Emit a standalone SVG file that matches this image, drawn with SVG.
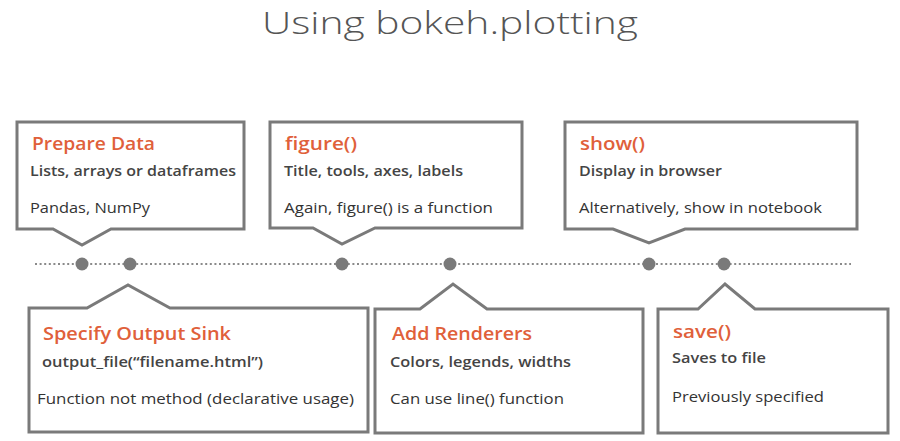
<svg xmlns="http://www.w3.org/2000/svg" width="900" height="441" viewBox="0 0 900 441">
<style>
.box{fill:#fff;stroke:#7a7a7a;stroke-width:3;stroke-linejoin:miter}
text{font-family:"Open Sans","Liberation Sans",sans-serif}
.h{font-weight:600;font-size:18px;fill:#e0603a}
.s{font-weight:600;font-size:15px;fill:#444}
.n{font-weight:400;font-size:15px;fill:#333}
.title{font-weight:300;font-size:32px;fill:#555}
.dot{fill:#7a7a7a}
</style>
<rect width="900" height="441" fill="#fff"/>
<text class="title" x="262" y="34" textLength="376" lengthAdjust="spacingAndGlyphs">Using bokeh.plotting</text>
<g id="connectors">
<line x1="35" y1="264" x2="851" y2="264" stroke="#8a8a8a" stroke-width="2.2" stroke-dasharray="2 2.6"/>
</g>
<g id="dots">
<circle class="dot" cx="82" cy="264" r="6.5"/>
<circle class="dot" cx="130" cy="264" r="6.5"/>
<circle class="dot" cx="342" cy="264" r="6.5"/>
<circle class="dot" cx="450" cy="264" r="6.5"/>
<circle class="dot" cx="649" cy="264" r="6.5"/>
<circle class="dot" cx="724" cy="264" r="6.5"/>
</g>
<g id="prepare-data">
<path class="box" d="M17,122 H244 V229 H111 L82,245 L53,229 H17 Z"/>
<text class="h" x="32" y="150" textLength="123" lengthAdjust="spacingAndGlyphs">Prepare Data</text>
<text class="s" x="30" y="176" textLength="206" lengthAdjust="spacingAndGlyphs">Lists, arrays or dataframes</text>
<text class="n" x="30" y="213" textLength="120" lengthAdjust="spacingAndGlyphs">Pandas, NumPy</text>
</g>
<g id="figure">
<path class="box" d="M270,122 H522 V228 H375 L342,244 L313,228 H270 Z"/>
<text class="h" x="285" y="150" textLength="72" lengthAdjust="spacingAndGlyphs">figure()</text>
<text class="s" x="284" y="176" textLength="179" lengthAdjust="spacingAndGlyphs">Title, tools, axes, labels</text>
<text class="n" x="284" y="213" textLength="209" lengthAdjust="spacingAndGlyphs">Again, figure() is a function</text>
</g>
<g id="show">
<path class="box" d="M565,122 H857 V229 H685 L649,243 L613,229 H565 Z"/>
<text class="h" x="580" y="150" textLength="65" lengthAdjust="spacingAndGlyphs">show()</text>
<text class="s" x="579" y="176" textLength="143" lengthAdjust="spacingAndGlyphs">Display in browser</text>
<text class="n" x="579" y="213" textLength="243" lengthAdjust="spacingAndGlyphs">Alternatively, show in notebook</text>
</g>
<g id="specify-output-sink">
<path class="box" d="M29,308 H87 L128,285 L170,308 H368 V432 H29 Z"/>
<text class="h" x="43" y="340" textLength="188" lengthAdjust="spacingAndGlyphs">Specify Output Sink</text>
<text class="s" x="42" y="367" textLength="221" lengthAdjust="spacingAndGlyphs">output_file(“filename.html”)</text>
<text class="n" x="37" y="404" textLength="317" lengthAdjust="spacingAndGlyphs">Function not method (declarative usage)</text>
</g>
<g id="add-renderers">
<path class="box" d="M375,309 H420 L453,284 L487,309 H643 V433 H375 Z"/>
<text class="h" x="392" y="340" textLength="140" lengthAdjust="spacingAndGlyphs">Add Renderers</text>
<text class="s" x="390" y="367" textLength="181" lengthAdjust="spacingAndGlyphs">Colors, legends, widths</text>
<text class="n" x="390" y="404" textLength="174" lengthAdjust="spacingAndGlyphs">Can use line() function</text>
</g>
<g id="save">
<path class="box" d="M658,309 H698 L725,284 L755,309 H888 V433 H658 Z"/>
<text class="h" x="673" y="338" textLength="58" lengthAdjust="spacingAndGlyphs">save()</text>
<text class="s" x="672" y="363" textLength="94" lengthAdjust="spacingAndGlyphs">Saves to file</text>
<text class="n" x="672" y="402" textLength="152" lengthAdjust="spacingAndGlyphs">Previously specified</text>
</g>
</svg>
